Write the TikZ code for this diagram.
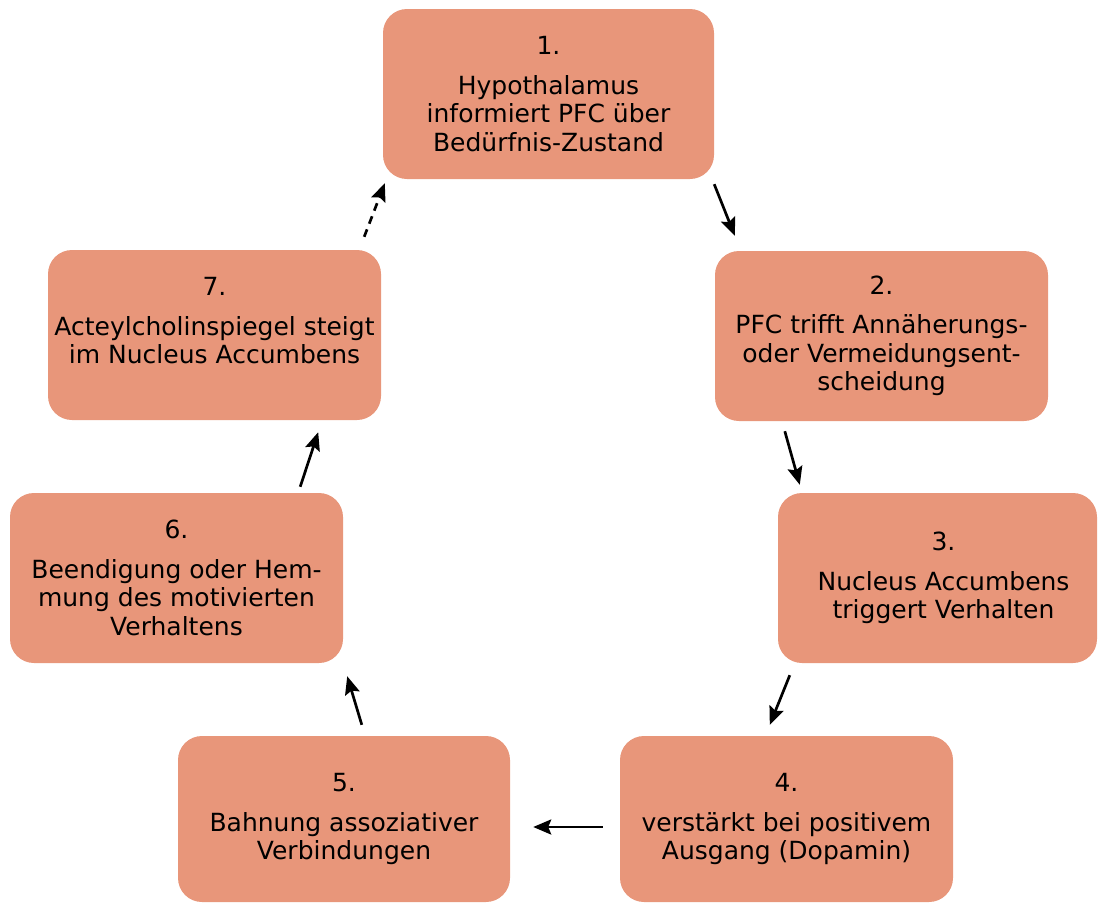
\documentclass[tikz,border=0pt]{standalone}
\usepackage{fontspec}
\setmainfont{DejaVu Sans}
\usetikzlibrary{arrows.meta,calc}
\definecolor{boxfill}{HTML}{E8967A}
\tikzset{
  stagebox/.style={fill=boxfill, draw=none, rounded corners=24pt,
    minimum width=#1, minimum height=170pt, align=center,
    font=\fontsize{25}{28.5}\selectfont, inner sep=0pt},
  stagebox/.default=333pt,
  flow/.style={line width=2.7pt, -{Stealth[length=18pt,width=15pt,inset=3pt]}},
  flowdash/.style={flow, dash pattern=on 8pt off 6pt}
}
\begin{document}
\begin{tikzpicture}[x=1pt,y=-1pt]
  \useasboundingbox (0,0) rectangle (1098,903);
  % stages of the cycle
  \node[stagebox=331pt] (b1) at (548.5,94) {1.\\[11pt]Hypothalamus\\informiert PFC über\\Bedürfnis-Zustand};
  \node[stagebox] (b2) at (881.5,336) {2.\\[11pt]PFC trifft Annäherungs-\\oder Vermeidungsent-\\scheidung};
  \node[stagebox=319pt] (b3) at (937.5,578) {\hspace*{12pt}3.\\[11pt]\hspace*{12pt}Nucleus Accumbens\\\hspace*{12pt}triggert Verhalten};
  \node[stagebox, minimum height=166pt] (b4) at (786.5,819) {4.\\[11pt]verstärkt bei positivem\\Ausgang (Dopamin)};
  \node[stagebox=332pt, minimum height=166pt] (b5) at (344,819) {5.\\[11pt]Bahnung assoziativer\\Verbindungen};
  \node[stagebox] (b6) at (176.5,578) {6.\\[11pt]Beendigung oder Hem-\\mung des motivierten\\Verhaltens};
  \node[stagebox] (b7) at (214.5,335) {7.\\[11pt]Acteylcholinspiegel steigt\\im Nucleus Accumbens\\\mbox{}};
  % connectors
  \draw[flow] ($(b1.south east)+(0,5)$) -- ($(b2.north west)+(20,-15)$);
  \draw[flow] ($(b2.south west)+(70,10)$) -- ($(b3.north west)+(22,-8)$);
  \draw[flow] ($(b3.south west)+(12,12)$) -- ($(b4.north west)+(150,-11)$);
  \draw[flow] ($(b4.west)+(-17,8)$) -- ($(b5.east)+(23,8)$);
  \draw[flow] ($(b5.north west)+(184,-11)$) -- ($(b6.south east)+(4,13)$);
  \draw[flow] ($(b6.north east)+(-43,-6)$) -- ($(b7.south east)+(-63,12)$);
  \draw[flowdash] ($(b7.north east)+(-17,-13)$) -- ($(b1.south west)+(2,4)$);
\end{tikzpicture}
\end{document}
